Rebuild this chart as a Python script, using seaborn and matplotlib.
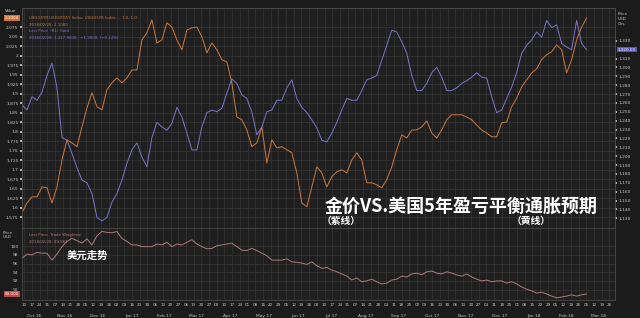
import numpy as np
import pandas as pd
import matplotlib
matplotlib.use("Agg")
import matplotlib.pyplot as plt
import matplotlib.dates as mdates
import matplotlib.ticker as mticker
from matplotlib.transforms import blended_transform_factory
import seaborn as sns

# ---------------- data ----------------
start_date = "2016-10-08"
sample_step = "109h"

gold_price = [1258, 1252, 1267, 1263, 1272, 1291, 1305, 1277, 1221, 1218,
              1203, 1187, 1173, 1170, 1158, 1131, 1127, 1131, 1148, 1158,
              1173, 1192, 1207, 1215, 1199, 1188, 1221, 1238, 1233, 1229,
              1237, 1255, 1244, 1226, 1207, 1207, 1233, 1249, 1252, 1250,
              1254, 1271, 1287, 1282, 1269, 1265, 1250, 1224, 1233, 1250,
              1252, 1263, 1263, 1277, 1286, 1265, 1255, 1249, 1241, 1232,
              1218, 1216, 1226, 1238, 1252, 1265, 1263, 1263, 1274, 1286,
              1288, 1291, 1308, 1325, 1342, 1340, 1329, 1316, 1291, 1274,
              1274, 1282, 1294, 1300, 1289, 1274, 1274, 1277, 1282, 1285,
              1289, 1294, 1289, 1288, 1267, 1249, 1252, 1265, 1278, 1294,
              1316, 1325, 1331, 1340, 1334, 1353, 1345, 1348, 1327, 1323,
              1320, 1353, 1327, 1320]

breakeven_5y = [1.587, 1.613, 1.629, 1.629, 1.655, 1.653, 1.613, 1.655, 1.726, 1.779,
                1.771, 1.761, 1.813, 1.863, 1.903, 1.866, 1.858, 1.911, 1.929, 1.942,
                1.929, 1.942, 1.963, 1.963, 2.042, 2.061, 2.095, 2.034, 2.042, 2.087,
                2.076, 2.042, 2.016, 2.068, 2.074, 2.076, 2.050, 2.008, 2.034, 2.016,
                1.990, 1.984, 1.929, 1.839, 1.832, 1.805, 1.761, 1.771, 1.813, 1.718,
                1.779, 1.758, 1.761, 1.753, 1.745, 1.692, 1.613, 1.603, 1.655, 1.708,
                1.692, 1.655, 1.682, 1.695, 1.700, 1.692, 1.726, 1.745, 1.726, 1.666,
                1.666, 1.661, 1.653, 1.674, 1.708, 1.753, 1.792, 1.784, 1.805, 1.805,
                1.813, 1.829, 1.797, 1.784, 1.805, 1.832, 1.845, 1.845, 1.845, 1.839,
                1.832, 1.818, 1.805, 1.797, 1.787, 1.787, 1.824, 1.826, 1.866, 1.889,
                1.918, 1.937, 1.955, 1.966, 1.990, 2.003, 2.011, 2.029, 2.016, 1.955,
                1.990, 2.042, 2.076, 2.100]

usd_index = [97.2, 98.2, 98.0, 98.6, 98.4, 98.4, 96.8, 98.2, 99.9, 101.1,
             101.8, 101.3, 100.7, 101.7, 100.3, 102.4, 103.4, 103.2, 103.1, 103.4,
             101.8, 101.1, 100.3, 100.3, 99.9, 99.9, 99.9, 100.5, 100.3, 100.9,
             99.9, 100.5, 100.3, 100.9, 101.5, 100.5, 99.9, 99.4, 99.5, 100.1,
             100.3, 100.5, 100.7, 99.9, 99.1, 99.0, 99.5, 99.0, 98.4, 97.8,
             96.8, 96.8, 96.8, 97.1, 96.4, 96.3, 96.1, 95.8, 96.4, 95.5,
             94.9, 95.1, 94.5, 94.1, 93.6, 93.1, 92.2, 92.7, 91.8, 92.0,
             92.4, 91.8, 91.3, 91.5, 92.2, 92.4, 93.1, 92.9, 93.6, 93.8,
             93.4, 94.1, 94.3, 93.8, 93.6, 94.1, 93.8, 93.4, 93.1, 93.6,
             92.9, 92.4, 92.0, 92.2, 91.8, 92.0, 92.0, 91.5, 91.8, 91.3,
             90.6, 90.1, 89.7, 89.2, 89.4, 89.0, 88.5, 88.1, 88.3, 88.5,
             88.8, 88.5, 88.8, 89.0]

bei_ticks = [1.575, 1.6, 1.625, 1.65, 1.675, 1.7, 1.725, 1.75, 1.775, 1.8, 1.825,
             1.85, 1.875, 1.9, 1.925, 1.95, 1.975, 2.0, 2.025, 2.05, 2.075]
gold_ticks = [1130, 1140, 1150, 1160, 1170, 1180, 1190, 1200, 1210, 1220, 1230,
              1240, 1250, 1260, 1270, 1280, 1290, 1300, 1310, 1330]
usd_ticks = [90, 92, 94, 96, 98, 100]

title_text = "金价VS.美国5年盈亏平衡通胀预期"
gold_note = "（紫线）"
bei_note = "（黄线）"
usd_note = "美元走势"
legend_bei = ["USGG5YR-USGGT05Y Index, USGG5YR Index ... 1.0, 1.0", "2018/02/28: 2.1000"]
legend_gold = ["Last Price  (R1) Gold", "2018/02/28: 1,317.9800,  +1.9000, (+0.14%)"]
legend_usd = ["Last Price  Trade Weighted", "2018/02/28: 89.861"]

# ---------------- frames ----------------
gdf = pd.DataFrame({"date": pd.date_range(start_date, periods=len(gold_price), freq=sample_step),
                    "value": gold_price})
bdf = pd.DataFrame({"date": pd.date_range(start_date, periods=len(breakeven_5y), freq=sample_step),
                    "value": breakeven_5y})
udf = pd.DataFrame({"date": pd.date_range(start_date, periods=len(usd_index), freq=sample_step),
                    "value": usd_index})

BG = "#1b1b1b"
PANEL = "#1f1f1f"
GRID = "#353535"
TXT = "#c9c9c9"
PURPLE = "#7a76c8"
ORANGE = "#c97a42"
RED = "#b07a7a"
CJK = ["Noto Sans CJK SC", "DejaVu Sans"]

sns.set_theme(style="dark")
plt.rcParams["font.family"] = ["DejaVu Sans", "Noto Sans CJK SC"]

W, H = 640, 318
fig = plt.figure(figsize=(6.4, 3.18), dpi=100, facecolor=BG)
L, R = 22, 615
ax = fig.add_axes([L / W, 1 - 228 / H, (R - L) / W, 220 / H])
ax2 = ax.twinx()
axb = fig.add_axes([L / W, 1 - 300 / H, (R - L) / W, 72 / H], sharex=ax)

for a in (ax, axb):
    a.set_facecolor(PANEL)
ax2.set_facecolor("none")

sns.lineplot(data=bdf, x="date", y="value", ax=ax, color=ORANGE, lw=0.7)
sns.lineplot(data=gdf, x="date", y="value", ax=ax2, color=PURPLE, lw=0.7)
sns.lineplot(data=udf, x="date", y="value", ax=axb, color=RED, lw=0.7)

xmin, xmax = pd.Timestamp("2016-10-08"), pd.Timestamp("2018-03-31")
ax.set_xlim(xmin, xmax)

ax.set_ylim(1.547, 2.126)
ax2.set_ylim(1119, 1367)
axb.set_ylim(87.6, 104.2)

ax.yaxis.set_major_locator(mticker.FixedLocator(bei_ticks))
ax.yaxis.set_major_formatter(mticker.FuncFormatter(lambda v, p: f"{v:.3f}".rstrip("0").rstrip(".")))
ax2.yaxis.set_major_locator(mticker.FixedLocator(gold_ticks))
ax2.yaxis.set_major_formatter(mticker.FuncFormatter(lambda v, p: f"{v:,.0f}"))
axb.yaxis.set_major_locator(mticker.FixedLocator(usd_ticks))

for a in (ax, ax2, axb):
    a.set_xlabel("")
    a.set_ylabel("")
    a.tick_params(axis="y", labelsize=3.2, colors=TXT, length=1.5, pad=1)
    for s in a.spines.values():
        s.set_color("#4a4a4a")
        s.set_linewidth(0.6)

ax.grid(True, color=GRID, lw=0.5)
axb.grid(True, color=GRID, lw=0.5)
ax2.grid(False)

wk = mdates.WeekdayLocator(byweekday=mdates.MO)
for a in (ax, axb):
    a.xaxis.set_major_locator(wk)
ax.tick_params(axis="x", labelbottom=False, length=0)
axb.xaxis.set_major_formatter(mdates.DateFormatter("%d"))
axb.tick_params(axis="x", labelsize=3.0, colors=TXT, length=1.5, pad=1)
axb.xaxis.set_minor_locator(mdates.MonthLocator())
axb.tick_params(axis="x", which="minor", length=14, color="#5a5a5a", width=0.6)

# month labels
trans = blended_transform_factory(axb.transData, axb.transAxes)
for m in pd.date_range("2016-10-01", "2018-03-01", freq="MS"):
    a0 = max(m, xmin)
    a1 = min(m + pd.offsets.MonthEnd(0), xmax)
    mid = a0 + (a1 - a0) / 2
    axb.text(mid, -0.22, m.strftime("%b %y"), transform=trans, ha="center", va="center",
             fontsize=3.2, color=TXT)

# axis headers
fig.text(5 / W, 1 - 11 / H, "Value", fontsize=3.0, color=TXT, va="center")
fig.text(618 / W, 1 - 19 / H, "Price\nUSD\nOzs", fontsize=3.0, color=TXT, va="center", linespacing=1.2)
fig.text(3 / W, 1 - 235 / H, "Price\nUSD", fontsize=3.0, color=TXT, va="center", linespacing=1.2)

# last value boxes
ax.annotate(f"{breakeven_5y[-1]:.4f}", xy=(0, breakeven_5y[-1]), xycoords=("axes fraction", "data"),
            xytext=(-2, 0), textcoords="offset points", ha="right", va="center", fontsize=3.0,
            color="white", bbox=dict(boxstyle="square,pad=0.15", fc="#d0733a", ec="none"))
ax2.annotate(f"{gold_price[-1]:,.2f}", xy=(1, gold_price[-1]), xycoords=("axes fraction", "data"),
             xytext=(2, 0), textcoords="offset points", ha="left", va="center", fontsize=3.0,
             color="white", bbox=dict(boxstyle="square,pad=0.15", fc="#5a55c0", ec="none"))
axb.annotate(f"{usd_index[-1]:.3f}", xy=(0, usd_index[-1]), xycoords=("axes fraction", "data"),
             xytext=(-2, 0), textcoords="offset points", ha="right", va="center", fontsize=3.0,
             color="white", bbox=dict(boxstyle="square,pad=0.15", fc="#c04a4a", ec="none"))

# legends (small text)
ax.text(0.012, 0.955, legend_bei[0], transform=ax.transAxes, fontsize=2.8, color=ORANGE, va="center")
ax.text(0.012, 0.925, legend_bei[1], transform=ax.transAxes, fontsize=2.8, color=ORANGE, va="center")
ax.text(0.012, 0.895, legend_gold[0], transform=ax.transAxes, fontsize=2.8, color=PURPLE, va="center")
ax.text(0.012, 0.865, legend_gold[1], transform=ax.transAxes, fontsize=2.8, color=PURPLE, va="center")
axb.text(0.012, 0.9, legend_usd[0], transform=axb.transAxes, fontsize=2.8, color=RED, va="center")
axb.text(0.012, 0.8, legend_usd[1], transform=axb.transAxes, fontsize=2.8, color=RED, va="center")

# annotations
fig.text(325 / W, 1 - 206 / H, title_text, fontsize=13, fontweight="bold", color="white",
         family=CJK, va="center")
fig.text(322 / W, 1 - 221 / H, gold_note, fontsize=7, fontweight="bold", color="white",
         family=CJK, va="center")
fig.text(512 / W, 1 - 221 / H, bei_note, fontsize=7, fontweight="bold", color="white",
         family=CJK, va="center")
fig.text(67 / W, 1 - 256 / H, usd_note, fontsize=7.5, fontweight="bold", color="white",
         family=CJK, va="center")

fig.savefig("out.png", dpi=100, facecolor=BG)
